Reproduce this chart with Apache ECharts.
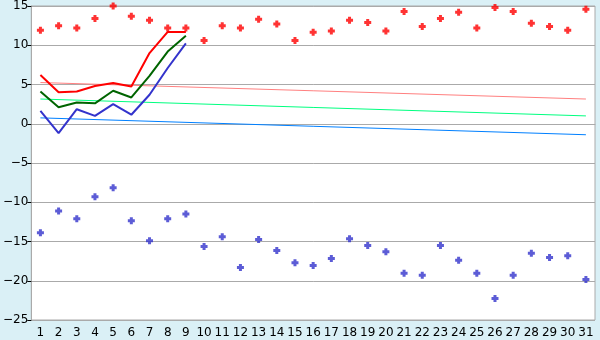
<!DOCTYPE html>
<html><head><meta charset="utf-8">
<script src="https://cdn.jsdelivr.net/npm/echarts@6/dist/echarts.min.js"></script>
<style>html,body{margin:0;padding:0;background:#daf0f6;}#c{width:600px;height:340px;}</style>
</head><body><div id="c"></div>
<script>
const categories = ['1','2','3','4','5','6','7','8','9','10','11','12','13','14','15','16','17','18','19','20','21','22','23','24','25','26','27','28','29','30','31'];
const redLine = [6.2, 4.0, 4.1, 4.8, 5.2, 4.75, 9.0, 11.7, 11.7];
const greenLine = [4.1, 2.1, 2.7, 2.6, 4.2, 3.35, 6.1, 9.2, 11.2];
const blueLine = [1.65, -1.2, 1.85, 1.0, 2.5, 1.15, 3.7, 7.1, 10.25];
const redPoints = [11.9, 12.5, 12.2, 13.4, 15.0, 13.7, 13.2, 12.2, 12.2, 10.6, 12.5, 12.2, 13.3, 12.7, 10.6, 11.65, 11.8, 13.2, 12.9, 11.8, 14.3, 12.4, 13.4, 14.2, 12.2, 14.8, 14.3, 12.8, 12.4, 11.9, 14.6];
const bluePoints = [-13.9, -11.1, -12.1, -9.3, -8.15, -12.35, -14.9, -12.1, -11.5, -15.65, -14.4, -18.3, -14.75, -16.15, -17.7, -18.05, -17.15, -14.65, -15.5, -16.3, -19.05, -19.3, -15.5, -17.4, -19.05, -22.25, -19.3, -16.5, -17.05, -16.8, -19.85];
const trendPink = [5.25, 3.15];
const trendGreen = [3.15, 1.0];
const trendBlue = [0.75, -1.4];
const yTicks = {min: -25, max: 15, interval: 5};

const plus = 'path://M2,0h3v2h2v3h-2v2h-3v-2h-2v-3h2z';
const chart = echarts.init(document.getElementById('c'), null, {renderer: 'canvas'});
const trend = (vals, color) => ({
  type: 'line', data: [[categories[0], vals[0]], [categories[categories.length-1], vals[1]]],
  symbol: 'none', lineStyle: {color: color, width: 1}, silent: true, z: 1
});
const line = (vals, color) => ({
  type: 'line', data: vals, symbol: 'none', lineStyle: {color: color, width: 2}, z: 3
});
const pts = (vals, color) => ({
  type: 'scatter', data: vals, symbol: plus, symbolSize: 7, itemStyle: {color: color}, z: 4
});
chart.setOption({
  backgroundColor: '#daf0f6',
  animation: false,
  grid: {left: 26, right: 5, top: 5, bottom: 20, show: true, backgroundColor: '#ffffff', borderColor: '#aaaaaa', borderWidth: 1},
  xAxis: {
    type: 'category', data: categories, boundaryGap: true,
    axisLine: {lineStyle: {color: '#aaaaaa'}},
    axisTick: {alignWithLabel: true, length: 5, lineStyle: {color: '#000'}},
    axisLabel: {color: '#000', fontFamily: 'DejaVu Sans', fontSize: 12, margin: 7, interval: 0}
  },
  yAxis: {
    type: 'value', min: yTicks.min, max: yTicks.max, interval: yTicks.interval,
    axisLine: {show: true, lineStyle: {color: '#aaaaaa'}},
    axisTick: {show: true, length: 4, lineStyle: {color: '#000'}},
    splitLine: {lineStyle: {color: '#aaaaaa'}},
    axisLabel: {color: '#000', fontFamily: 'DejaVu Sans', fontSize: 12, margin: 3,
      formatter: v => String(v).replace('-', '\u2212')}
  },
  series: [
    trend(trendPink, '#ff8080'),
    trend(trendGreen, '#00ff80'),
    trend(trendBlue, '#0080ff'),
    line(redLine, '#ff0000'),
    line(greenLine, '#006400'),
    line(blueLine, '#3333cc'),
    pts(redPoints, '#ff0000'),
    pts(bluePoints, '#3333cc')
  ]
});
</script></body></html>
